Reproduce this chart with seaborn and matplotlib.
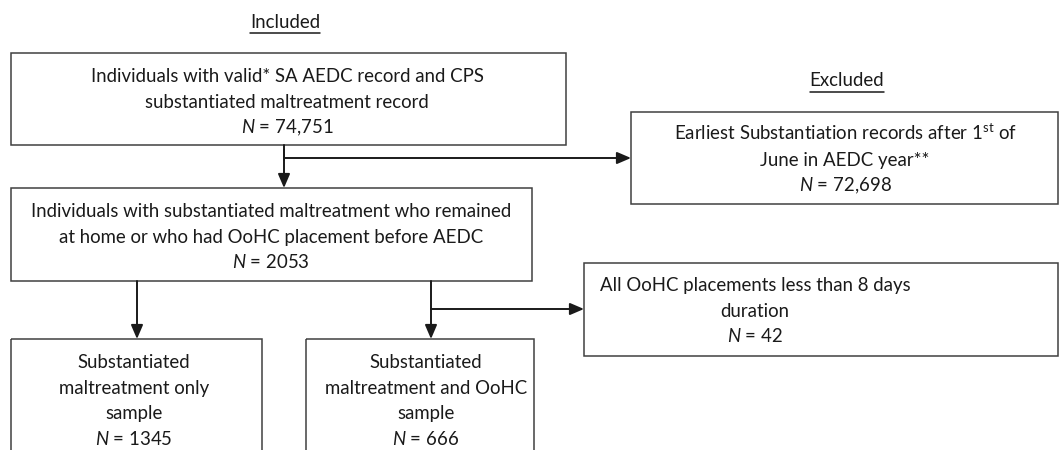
import matplotlib
matplotlib.use("Agg")
import matplotlib.pyplot as plt
import seaborn as sns
from matplotlib.patches import Rectangle

# flowchart content
included_label = "Included"
excluded_label = "Excluded"
box_texts = [
    ["Individuals with valid* SA AEDC record and CPS", "substantiated maltreatment record"],
    ["Individuals with substantiated maltreatment who remained",
     "at home or who had OoHC placement before AEDC"],
    ["Substantiated", "maltreatment only", "sample"],
    ["Substantiated", "maltreatment and OoHC", "sample"],
    ["Earliest Substantiation records after 1$^{\\mathrm{st}}$ of", "June in AEDC year**"],
    ["All OoHC placements less than 8 days", "duration"],
]
box_n = ["74,751", "2053", "1345", "666", "72,698", "42"]

# layout in pixel coords (x0, y0, x1, y1), text centre x, first baseline y
box_pos = [
    (11, 53, 566, 145),
    (11, 188, 532, 281),
    (11, 339, 262, 470),
    (306, 339, 534, 470),
    (631, 112, 1058, 204),
    (584, 263, 1058, 356),
]
text_pos = [
    (287, 82),
    (271, 217),
    (134, 368),
    (426, 368),
    (845, 140),
    (755, 291),
]
pitch = 25.7

sns.set_theme(style="white")
plt.rcParams["font.family"] = ["Lato", "DejaVu Sans"]
plt.rcParams["mathtext.fontset"] = "custom"
plt.rcParams["mathtext.rm"] = "Lato"
plt.rcParams["mathtext.it"] = "Lato:italic"

fig = plt.figure(figsize=(10.61, 4.5), dpi=100)
ax = fig.add_axes([0, 0, 1, 1])
ax.set_xlim(0, 1061)
ax.set_ylim(450, 0)
ax.axis("off")

fs = 13.4
edge = "#404040"
ink = "#1a1a1a"

for (x0, y0, x1, y1), lines, n, (tx, ty) in zip(box_pos, box_texts, box_n, text_pos):
    ax.add_patch(Rectangle((x0, y0), x1 - x0, y1 - y0, fill=False,
                           edgecolor=edge, linewidth=1.1))
    for i, line in enumerate(lines + ["$N$ = " + n]):
        ax.text(tx, ty + i * pitch, line, ha="center", va="baseline",
                fontsize=fs, color=ink)

# section headers with underline
fig.canvas.draw()
renderer = fig.canvas.get_renderer()
for label, (hx, hy) in [(included_label, (285, 22)), (excluded_label, (847, 81))]:
    t = ax.text(hx, hy, label, ha="center", va="center", fontsize=fs, color=ink)
    bb = t.get_window_extent(renderer).transformed(ax.transData.inverted())
    ax.plot([bb.x0, bb.x1], [hy + 10.5, hy + 10.5], color=ink, lw=1.1)

arrow = dict(arrowstyle="-|>,head_length=0.7,head_width=0.3", color=ink,
             lw=1.4, shrinkA=0, shrinkB=0)

# connectors
ax.plot([284, 284], [145, 160], color=ink, lw=1.4)
ax.annotate("", xy=(284, 188), xytext=(284, 150), arrowprops=arrow)
ax.annotate("", xy=(631, 158), xytext=(284, 158), arrowprops=arrow)
ax.annotate("", xy=(137, 339), xytext=(137, 281), arrowprops=arrow)
ax.annotate("", xy=(431, 339), xytext=(431, 281), arrowprops=arrow)
ax.annotate("", xy=(584, 309), xytext=(431, 309), arrowprops=arrow)

fig.savefig("out.png", dpi=100)
